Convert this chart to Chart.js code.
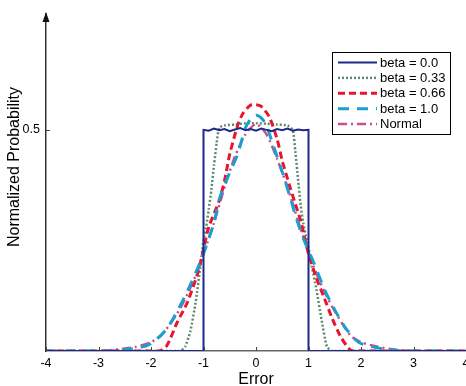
<!DOCTYPE html>
<html><head><meta charset="utf-8">
<script src="https://cdn.jsdelivr.net/npm/chart.js@4/dist/chart.umd.min.js"></script>
<style>html,body{margin:0;padding:0;background:#fff}#wrap{width:466px;height:386px}</style>
</head><body><div id="wrap"><canvas id="c" width="466" height="386"></canvas></div>
<script>
const seriesLabels = ['beta = 0.0', 'beta = 0.33', 'beta = 0.66', 'beta = 1.0', 'Normal'];
const xTicks = [-4, -3, -2, -1, 0, 1, 2, 3, 4];
const yTicks = [0.5];
const xTitle = 'Error';
const yTitle = 'Normalized Probability';

const beta0X = [-4, -1, -1, -0.9, -0.8, -0.7, -0.6, -0.5, -0.4, -0.3, -0.2, -0.1, 0, 0.1, 0.2, 0.3, 0.4, 0.5, 0.6, 0.7, 0.8, 0.9, 1, 1, 4];
const beta0Y = [0, 0, 0.5, 0.498, 0.503, 0.499, 0.502, 0.497, 0.501, 0.504, 0.499, 0.502, 0.498, 0.503, 0.5, 0.497, 0.502, 0.499, 0.503, 0.498, 0.501, 0.499, 0.5, 0, 0];

const beta033X = [-4, -1.45, -1.35, -1.25, -1.15, -1.05, -1.0, -0.95, -0.9, -0.85, -0.8, -0.75, -0.7, -0.6, -0.4, -0.2, 0, 0.2, 0.4, 0.6, 0.7, 0.75, 0.8, 0.85, 0.9, 0.95, 1.0, 1.05, 1.15, 1.25, 1.35, 1.45, 4];
const beta033Y = [0, 0, 0.01, 0.045, 0.11, 0.2, 0.25, 0.28, 0.32, 0.365, 0.42, 0.47, 0.505, 0.51, 0.512, 0.515, 0.515, 0.514, 0.512, 0.51, 0.5, 0.45, 0.39, 0.33, 0.29, 0.26, 0.235, 0.2, 0.14, 0.07, 0.01, 0, 0];

const beta066X = [-4, -1.85, -1.7, -1.5, -1.3, -1.1, -1.0, -0.9, -0.7, -0.6, -0.5, -0.35, -0.25, -0.1, 0, 0.1, 0.25, 0.4, 0.5, 0.65, 0.75, 0.85, 1.0, 1.15, 1.3, 1.45, 1.6, 1.75, 1.85, 4];
const beta066Y = [0, 0, 0.012, 0.065, 0.112, 0.18, 0.23, 0.28, 0.34, 0.385, 0.445, 0.51, 0.537, 0.556, 0.557, 0.553, 0.53, 0.48, 0.43, 0.37, 0.332, 0.295, 0.22, 0.165, 0.12, 0.074, 0.035, 0.008, 0, 0];

const beta1X = [-4, -2.8, -2.5, -2.1, -1.9, -1.7, -1.5, -1.3, -1.1, -1.0, -0.8, -0.7, -0.55, -0.35, -0.2, -0.1, 0, 0.1, 0.2, 0.3, 0.5, 0.65, 0.75, 0.9, 1.1, 1.3, 1.5, 1.7, 1.95, 2.2, 2.5, 2.8, 4];
const beta1Y = [0, 0, 0.003, 0.011, 0.026, 0.05, 0.09, 0.137, 0.19, 0.22, 0.29, 0.343, 0.39, 0.445, 0.505, 0.525, 0.533, 0.527, 0.51, 0.475, 0.405, 0.348, 0.307, 0.255, 0.2, 0.14, 0.093, 0.053, 0.02, 0.01, 0.003, 0, 0];

const normalX = [-4, -3.0, -2.6, -2.3, -2.0, -1.8, -1.5, -1.3, -1.1, -1.0, -0.8, -0.6, -0.4, -0.2, 0, 0.2, 0.4, 0.6, 0.8, 1.0, 1.1, 1.3, 1.5, 1.8, 2.0, 2.3, 2.6, 3.0, 4];
const normalY = [0, 0, 0.004, 0.009, 0.02, 0.036, 0.085, 0.13, 0.185, 0.22, 0.29, 0.37, 0.44, 0.49, 0.513, 0.49, 0.435, 0.37, 0.295, 0.222, 0.19, 0.135, 0.09, 0.035, 0.02, 0.01, 0.004, 0, 0];

const pts = (xs, ys) => xs.map((x, i) => ({x: x, y: ys[i]}));

const styles = [
  {color: '#1c2a8c', width: 2, dash: [], tension: 0},
  {color: '#5f8a6c', width: 2.5, dash: [2, 2], tension: 0.2},
  {color: '#e8152e', width: 3, dash: [7, 4], tension: 0.25},
  {color: '#1a9fd0', width: 3, dash: [11, 8], tension: 0.25},
  {color: '#c7508c', width: 2.5, dash: [9, 4, 2, 4], tension: 0.25}
];
const allData = [pts(beta0X, beta0Y), pts(beta033X, beta033Y), pts(beta066X, beta066Y), pts(beta1X, beta1Y), pts(normalX, normalY)];

const datasets = allData.map((d, i) => ({
  label: seriesLabels[i],
  data: d,
  showLine: true,
  borderColor: styles[i].color,
  backgroundColor: styles[i].color,
  borderWidth: styles[i].width,
  borderDash: styles[i].dash,
  pointRadius: 0,
  tension: styles[i].tension,
  fill: false,
  order: [0, 4, 2, 1, 3][i]
}));

const FONT = 'Liberation Sans, Arial, sans-serif';

const decor = {
  id: 'decor',
  afterDraw(chart) {
    const ctx = chart.ctx;
    const ca = chart.chartArea;
    const xs = chart.scales.x, ys = chart.scales.y;
    ctx.save();
    ctx.strokeStyle = '#444';
    ctx.lineWidth = 1;
    ctx.setLineDash([]);
    xTicks.forEach(v => {
      const px = Math.round(xs.getPixelForValue(v)) + 0.5;
      ctx.beginPath(); ctx.moveTo(px, ca.bottom); ctx.lineTo(px, ca.bottom - 4); ctx.stroke();
    });
    yTicks.forEach(v => {
      const py = Math.round(ys.getPixelForValue(v)) + 0.5;
      ctx.beginPath(); ctx.moveTo(ca.left, py); ctx.lineTo(ca.left + 4, py); ctx.stroke();
    });
    ctx.fillStyle = '#111';
    ctx.beginPath();
    ctx.moveTo(ca.left, ca.top - 2);
    ctx.lineTo(ca.left - 3.5, ca.top + 8);
    ctx.lineTo(ca.left + 3.5, ca.top + 8);
    ctx.closePath(); ctx.fill();
    ctx.save();
    ctx.translate(15, 167);
    ctx.rotate(-Math.PI / 2);
    ctx.font = '16px ' + FONT;
    ctx.fillStyle = '#000';
    ctx.textAlign = 'center';
    ctx.textBaseline = 'middle';
    ctx.fillText(yTitle, 0, 0);
    ctx.restore();
    const bx = 332, by = 52, bw = 118, bh = 82;
    ctx.fillStyle = '#fff';
    ctx.fillRect(bx, by, bw, bh);
    ctx.strokeStyle = '#000';
    ctx.lineWidth = 1;
    ctx.strokeRect(bx + 0.5, by + 0.5, bw, bh);
    ctx.font = '13px ' + FONT;
    ctx.textBaseline = 'middle';
    ctx.textAlign = 'left';
    chart.data.datasets.forEach((ds, i) => {
      const y = 62.5 + i * 15.4;
      ctx.strokeStyle = ds.borderColor;
      ctx.lineWidth = ds.borderWidth;
      ctx.setLineDash(ds.borderDash);
      ctx.beginPath(); ctx.moveTo(338, y); ctx.lineTo(377, y); ctx.stroke();
      ctx.setLineDash([]);
      ctx.fillStyle = '#000';
      ctx.fillText(ds.label, 380, y + 0.5);
    });
    ctx.restore();
  }
};

new Chart(document.getElementById('c'), {
  type: 'scatter',
  data: {datasets: datasets},
  options: {
    responsive: false,
    animation: false,
    layout: {padding: {top: 14, right: 0, left: 0, bottom: 0}},
    plugins: {legend: {display: false}, tooltip: {enabled: false}},
    scales: {
      x: {
        type: 'linear', min: -4, max: 4,
        afterBuildTicks: s => { s.ticks = xTicks.map(v => ({value: v})); },
        afterFit: s => { s.height = 35; s.paddingRight = 0; s.paddingLeft = 0; },
        grid: {display: false, drawTicks: false},
        border: {display: true, color: '#666', width: 1.5},
        ticks: {color: '#000', font: {family: FONT, size: 12.5}, padding: 5, maxRotation: 0, autoSkip: false},
        title: {display: true, text: xTitle, color: '#000', font: {family: FONT, size: 16}, padding: {top: 0, bottom: -3}}
      },
      y: {
        type: 'linear', min: 0, max: 0.762,
        afterBuildTicks: s => { s.ticks = yTicks.map(v => ({value: v})); },
        afterFit: s => { s.width = 46; s.paddingTop = 0; s.paddingBottom = 0; },
        grid: {display: false, drawTicks: false},
        border: {display: true, color: '#333', width: 1.5},
        ticks: {color: '#000', font: {family: FONT, size: 12.5}, padding: 6},
        title: {display: false}
      }
    }
  },
  plugins: [decor]
});
</script></body></html>
